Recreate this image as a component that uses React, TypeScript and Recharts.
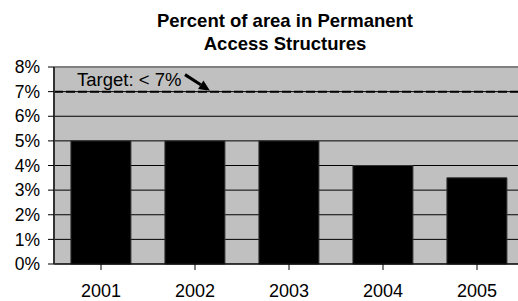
import { BarChart, Bar, XAxis, YAxis, CartesianGrid, ReferenceLine } from 'recharts';

const years = ['2001', '2002', '2003', '2004', '2005'];
const percentArea = [5, 5, 5, 4, 3.5];
const yTicks = [0, 1, 2, 3, 4, 5, 6, 7, 8];
const targetValue = 7;
const targetText = 'Target: < 7%';

const data = years.map((year, i) => ({ year, value: percentArea[i] }));

const FONT = 'Arial, "Liberation Sans", sans-serif';

function TargetLabel(props: any) {
  const { viewBox } = props;
  if (!viewBox) return null;
  const x0 = viewBox.x;
  const y0 = viewBox.y;
  const ax1 = x0 + 131;
  const ay1 = y0 - 17;
  const ax2 = x0 + 156;
  const ay2 = y0 - 1;
  const ang = Math.atan2(ay2 - ay1, ax2 - ax1);
  const hl = 11;
  const hw = 5;
  const bx = ax2 - hl * Math.cos(ang);
  const by = ay2 - hl * Math.sin(ang);
  const px = -Math.sin(ang) * hw;
  const py = Math.cos(ang) * hw;
  return (
    <g>
      <text x={x0 + 23} y={y0 - 6} fontSize={18.5} fontFamily={FONT} fill="#000">
        {targetText}
      </text>
      <line x1={ax1} y1={ay1} x2={bx} y2={by} stroke="#000" strokeWidth={3} />
      <polygon
        points={`${ax2},${ay2} ${bx + px},${by + py} ${bx - px},${by - py}`}
        fill="#000"
      />
    </g>
  );
}

export default function App() {
  return (
    <div
      style={{
        position: 'fixed',
        left: 0,
        top: 0,
        width: 518,
        height: 301,
        overflow: 'hidden',
        background: '#fff',
      }}
    >
      <div
        style={{
          position: 'absolute',
          left: 0,
          top: 9,
          width: 570,
          textAlign: 'center',
          fontFamily: FONT,
          fontWeight: 'bold',
          fontSize: 18.5,
          lineHeight: '23px',
          color: '#000',
        }}
      >
        Percent of area in Permanent
        <br />
        Access Structures
      </div>
      <BarChart
        width={530}
        height={301}
        data={data}
        margin={{ top: 67, right: 6, bottom: 7, left: 0 }}
        barCategoryGap="18%"
      >
        <CartesianGrid vertical={false} stroke="#000" fill="#C0C0C0" fillOpacity={1} />
        <XAxis
          dataKey="year"
          height={30}
          interval={0}
          tick={{ fontSize: 18, fill: '#000', fontFamily: FONT, dy: 12 }}
          tickLine={{ stroke: '#000' }}
          tickSize={6}
          axisLine={{ stroke: '#000' }}
          scale="band"
          padding={{ left: 0, right: 0 }}
        />
        <YAxis
          width={54}
          domain={[0, 8]}
          ticks={yTicks}
          interval={0}
          tickFormatter={(v) => `${v}%`}
          tick={{ fontSize: 17.5, fill: '#000', fontFamily: FONT, dx: -6 }}
          tickLine={{ stroke: '#000' }}
          tickSize={6}
          axisLine={{ stroke: '#333', strokeWidth: 2 }}
        />
        <ReferenceLine y={8} stroke="#808080" strokeWidth={2} />
        <Bar dataKey="value" fill="#000" stroke="#333" isAnimationActive={false} />
        <ReferenceLine
          y={targetValue}
          stroke="#000"
          strokeWidth={2}
          strokeDasharray="9 3"
          label={<TargetLabel />}
        />
      </BarChart>
    </div>
  );
}
